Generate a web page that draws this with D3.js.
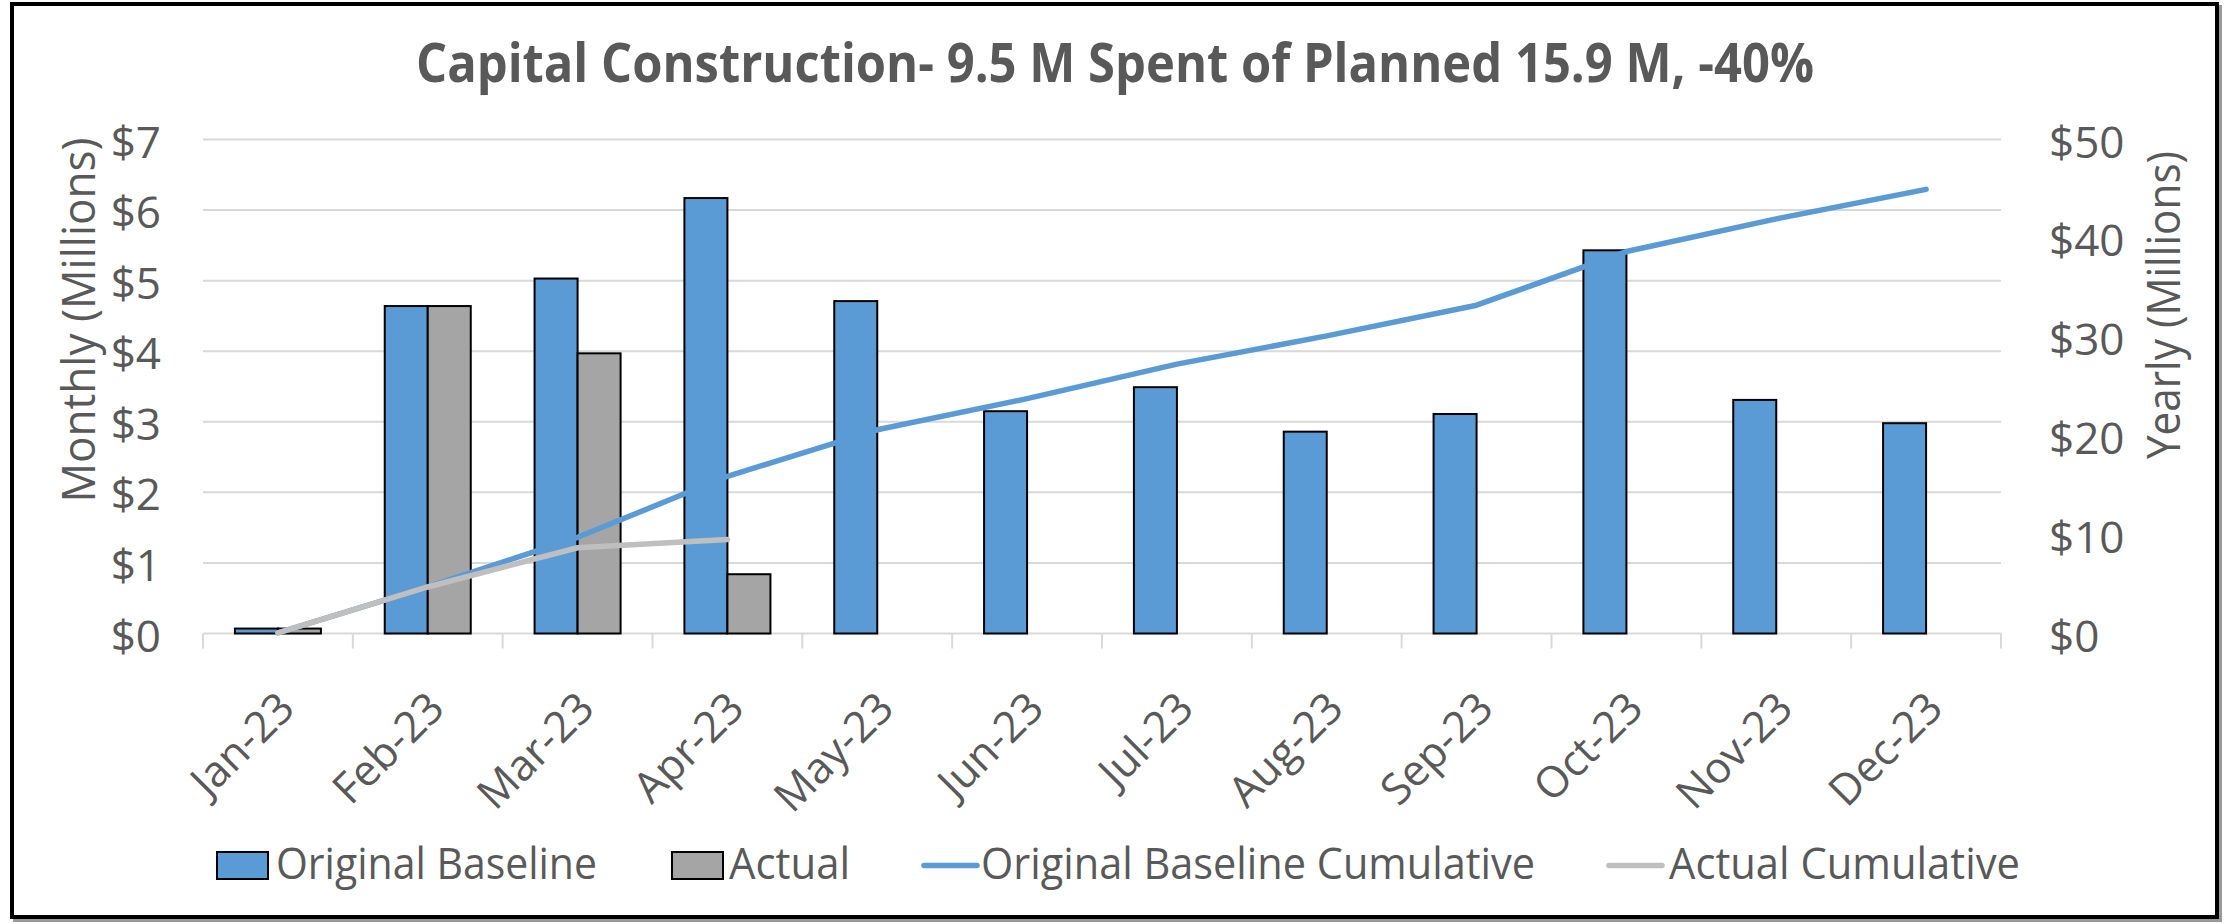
<!DOCTYPE html>
<html>
<head>
<meta charset="utf-8">
<script src="https://cdn.jsdelivr.net/npm/d3@7"></script>
<style>
  html, body { margin: 0; padding: 0; background: #ffffff; }
  svg { display: block; }
  text { font-family: "Open Sans", "Noto Sans", sans-serif; fill: #595959; }
</style>
</head>
<body>
<svg id="chart" width="2229" height="923"></svg>
<script>
// ---------- DATA ----------
const categories = ["Jan-23","Feb-23","Mar-23","Apr-23","May-23","Jun-23","Jul-23","Aug-23","Sep-23","Oct-23","Nov-23","Dec-23"];
const originalBaseline = [0.07, 4.64, 5.03, 6.17, 4.71, 3.15, 3.49, 2.86, 3.11, 5.43, 3.31, 2.98];
const actual = [0.07, 4.64, 3.97, 0.84, null, null, null, null, null, null, null, null];
const originalBaselineCumulative = [0.07, 4.71, 9.74, 15.91, 20.62, 23.77, 27.26, 30.12, 33.23, 38.66, 41.97, 44.95];
const actualCumulative = [0.07, 4.71, 8.68, 9.52];
const leftTicks = [0, 1, 2, 3, 4, 5, 6, 7];
const rightTicks = [0, 10, 20, 30, 40, 50];
const seriesNames = ["Original Baseline", "Actual", "Original Baseline Cumulative", "Actual Cumulative"];
const titleText = "Capital Construction- 9.5 M Spent of Planned 15.9 M, -40%";
const leftAxisTitle = "Monthly (Millions)";
const rightAxisTitle = "Yearly (Millions)";

// ---------- STYLE / LAYOUT ----------
const blue = "#5B9BD5", gray = "#A5A5A5", grayLine = "#BFBFBF", grid = "#D9D9D9", textColor = "#595959";
const plot = { left: 203, right: 2001, top: 139.5, bottom: 633.5 };

const svg = d3.select("#chart");

// frame
svg.append("rect").attr("x", 15).attr("y", 7).attr("width", 2205).attr("height", 913)
  .attr("fill", "none").attr("stroke", "#9a9a9a").attr("stroke-width", 4);
svg.append("rect").attr("x", 12).attr("y", 4).attr("width", 2205).attr("height", 913)
  .attr("fill", "#ffffff").attr("stroke", "#000000").attr("stroke-width", 4);

// scales
const x = d3.scaleBand().domain(categories).range([plot.left, plot.right]).paddingInner(0).paddingOuter(0);
const xSub = d3.scaleBand().domain(["ob", "ac"]).range([0, x.bandwidth()]).paddingInner(0).paddingOuter(0.742);
const yL = d3.scaleLinear().domain([0, 7]).range([plot.bottom, plot.top]);
const yR = d3.scaleLinear().domain([0, 50]).range([plot.bottom, plot.top]);

// gridlines
svg.append("g").selectAll("line").data(leftTicks.filter(d => d > 0)).join("line")
  .attr("x1", plot.left).attr("x2", plot.right)
  .attr("y1", d => yL(d)).attr("y2", d => yL(d))
  .attr("stroke", grid).attr("stroke-width", 2);

// category axis line + ticks
const xAxis = d3.axisBottom(x).tickSize(0).tickFormat("");
const gx = svg.append("g").attr("transform", `translate(0,${plot.bottom})`).call(xAxis);
gx.select(".domain").remove();
gx.append("line").attr("x1", plot.left).attr("x2", plot.right).attr("y1", 0).attr("y2", 0)
  .attr("stroke", grid).attr("stroke-width", 2);
const boundaries = categories.map(c => x(c)).concat([x(categories[categories.length - 1]) + x.bandwidth()]);
gx.selectAll("line.bt").data(boundaries).join("line").attr("class", "bt")
  .attr("x1", d => d).attr("x2", d => d).attr("y1", 0).attr("y2", 15)
  .attr("stroke", grid).attr("stroke-width", 2);

// bars
const barData = [];
categories.forEach((c, i) => {
  barData.push({ c, key: "ob", v: originalBaseline[i], fill: blue });
  if (actual[i] != null) barData.push({ c, key: "ac", v: actual[i], fill: gray });
});
svg.append("g").selectAll("rect").data(barData).join("rect")
  .attr("x", d => x(d.c) + xSub(d.key))
  .attr("width", xSub.bandwidth())
  .attr("y", d => yL(d.v))
  .attr("height", d => yL(0) - yL(d.v))
  .attr("fill", d => d.fill)
  .attr("stroke", "#000000").attr("stroke-width", 2);

// lines
const cx = c => x(c) + x.bandwidth() / 2;
const line = d3.line().x(d => cx(d.c)).y(d => yR(d.v));
svg.append("path")
  .datum(originalBaselineCumulative.map((v, i) => ({ c: categories[i], v })))
  .attr("d", line).attr("fill", "none").attr("stroke", blue)
  .attr("stroke-width", 5.5).attr("stroke-linecap", "round").attr("stroke-linejoin", "round");
svg.append("path")
  .datum(actualCumulative.map((v, i) => ({ c: categories[i], v })))
  .attr("d", line).attr("fill", "none").attr("stroke", grayLine)
  .attr("stroke-width", 5.5).attr("stroke-linecap", "round").attr("stroke-linejoin", "round");

// left axis
const gl = svg.append("g").attr("transform", `translate(${plot.left},0)`)
  .call(d3.axisLeft(yL).tickValues(leftTicks).tickSize(0).tickPadding(42).tickFormat(d => "$" + d));
gl.select(".domain").remove();
gl.selectAll("text").style("font-size", "44px").attr("fill", textColor).attr("dy", "0.40em")
  .style("font-family", '"Open Sans", sans-serif');

// right axis
const gr = svg.append("g").attr("transform", `translate(${plot.right},0)`)
  .call(d3.axisRight(yR).tickValues(rightTicks).tickSize(0).tickPadding(48).tickFormat(d => "$" + d));
gr.select(".domain").remove();
gr.selectAll("text").style("font-size", "44px").attr("fill", textColor).attr("dy", "0.40em")
  .style("font-family", '"Open Sans", sans-serif');

// category labels
svg.append("g").selectAll("text").data(categories).join("text")
  .attr("transform", c => `translate(${cx(c) + 19},${plot.bottom + 77}) rotate(-45)`)
  .attr("text-anchor", "end")
  .style("font-size", "43px")
  .text(c => c);

// title
svg.append("text").attr("x", 1115).attr("y", 82).attr("text-anchor", "middle")
  .style("font-size", "53px").style("font-weight", "bold")
  .attr("textLength", 1398).attr("lengthAdjust", "spacingAndGlyphs")
  .text(titleText);

// axis titles
svg.append("text").attr("transform", "translate(95,320) rotate(-90)").attr("text-anchor", "middle")
  .style("font-size", "45px").attr("textLength", 365).attr("lengthAdjust", "spacingAndGlyphs")
  .text(leftAxisTitle);
svg.append("text").attr("transform", "translate(2180,305) rotate(-90)").attr("text-anchor", "middle")
  .style("font-size", "45px").attr("textLength", 308).attr("lengthAdjust", "spacingAndGlyphs")
  .text(rightAxisTitle);

// legend
const legendItems = [
  { name: seriesNames[0], type: "box", fill: blue, x: 217, tx: 276, tw: 321 },
  { name: seriesNames[1], type: "box", fill: gray, x: 672, tx: 729, tw: 121 },
  { name: seriesNames[2], type: "line", fill: blue, x: 922, tx: 981, tw: 554 },
  { name: seriesNames[3], type: "line", fill: grayLine, x: 1607, tx: 1669, tw: 351 }
];
const lg = svg.append("g");
legendItems.forEach(it => {
  if (it.type === "box") {
    lg.append("rect").attr("x", it.x).attr("y", 852).attr("width", 51).attr("height", 27)
      .attr("fill", it.fill).attr("stroke", "#000").attr("stroke-width", 2);
  } else {
    lg.append("line").attr("x1", it.x + 2).attr("x2", it.x + 55).attr("y1", 865.5).attr("y2", 865.5)
      .attr("stroke", it.fill).attr("stroke-width", 5.5).attr("stroke-linecap", "round");
  }
  lg.append("text").attr("x", it.tx).attr("y", 879).style("font-size", "44px")
    .attr("textLength", it.tw).attr("lengthAdjust", "spacingAndGlyphs").text(it.name);
});
</script>
</body>
</html>
